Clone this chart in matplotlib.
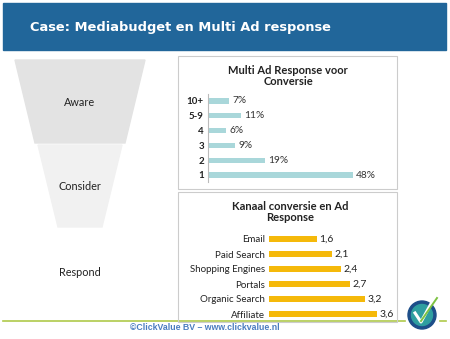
import matplotlib
matplotlib.use("Agg")
import matplotlib.pyplot as plt
from matplotlib.patches import Rectangle, Polygon, Circle

# * Data

funnel_stages = ["Aware", "Consider", "Respond"]

response_labels = ["1", "2", "3", "4", "5-9", "10+"]
response_values = [48, 19, 9, 6, 11, 7]

channel_labels = ["Affiliate", "Organic Search", "Portals",
                  "Shopping Engines", "Paid Search", "Email"]
channel_values = [3.6, 3.2, 2.7, 2.4, 2.1, 1.6]

W, H = 450, 339
FONT = "Lato"

fig = plt.figure(figsize=(W / 100, H / 100), dpi=100)

# Background canvas in pixel coordinates (origin top left).
bg = fig.add_axes([0, 0, 1, 1])
bg.set_xlim(0, W)
bg.set_ylim(H, 0)
bg.axis("off")

# Header band.
bg.add_patch(Rectangle((3, 3), 443, 47, color="#21669a", zorder=1))
bg.text(30, 27, "Case: Mediabudget en Multi Ad response", color="white",
        fontsize=9.4, fontweight="bold", va="center", ha="left",
        family="DejaVu Sans")

# Funnel.
bg.add_patch(Polygon([(15, 60), (145, 60), (125, 143), (35, 143)],
                     closed=True, color="#e3e3e3", zorder=1))
bg.add_patch(Polygon([(38, 145), (122, 145), (102, 227), (58, 227)],
                     closed=True, color="#f1f1f1", zorder=1))
for stage, y in zip(funnel_stages, [102, 187, 272]):
    bg.text(80, y, stage, fontsize=7.8, ha="center", va="center",
            color="#222222", family=FONT)

# Chart boxes.
for (x0, y0, x1, y1) in [(178, 56, 397, 189), (178, 192, 397, 322)]:
    bg.add_patch(Rectangle((x0, y0), x1 - x0, y1 - y0, fill=False,
                           edgecolor="#cccccc", lw=0.8, zorder=2))

bg.text(288, 76, "Multi Ad Response voor\nConversie", fontsize=8,
        fontweight="bold", ha="center", va="center", color="#222222",
        family=FONT, linespacing=1.1)
bg.text(290, 212, "Kanaal conversie en Ad\nResponse", fontsize=8,
        fontweight="bold", ha="center", va="center", color="#222222",
        family=FONT, linespacing=1.1)

# Bottom line, footer and logo.
bg.plot([3, 405], [321, 321], color="#afc94a", lw=1.2, zorder=1)
bg.plot([440, 446], [321, 321], color="#afc94a", lw=1.2, zorder=1)
bg.text(205, 327, "\u00a9ClickValue BV \u2013 www.clickvalue.nl", fontsize=6.3,
        fontweight="bold", color="#4a7cc0", ha="center", va="center",
        family="Liberation Sans", zorder=3)
bg.add_patch(Circle((422, 315), 14, color="#1d4e89", zorder=3))
bg.add_patch(Circle((422, 315), 10.5, color="#2f9fa0", zorder=4))
bg.plot([415, 421, 433], [313, 322, 300], color="white", lw=2.2, zorder=5)
bg.plot([421, 437], [321, 298], color="#7dc242", lw=1.4, zorder=6)


def px_axes(x0, x1, y0, y1):
    return fig.add_axes([x0 / W, 1 - y1 / H, (x1 - x0) / W, (y1 - y0) / H])


def style(ax):
    ax.patch.set_alpha(0)
    for s in ["top", "right", "bottom"]:
        ax.spines[s].set_visible(False)
    ax.spines["left"].set_color("#bbbbbb")
    ax.spines["left"].set_linewidth(0.8)
    ax.set_xticks([])
    ax.tick_params(axis="y", length=0, pad=3)


# * Multi Ad Response chart
ax1 = px_axes(208, 390, 93.6, 182.4)
pos = range(len(response_labels))
ax1.barh(pos, response_values, height=0.34, color="#a9d7da")
ax1.set_xlim(0, 182 / 3.02)
ax1.set_ylim(-0.5, 5.5)
ax1.set_yticks(list(pos))
ax1.set_yticklabels(response_labels, fontsize=7, fontweight="bold",
                    family=FONT, color="#222222")
style(ax1)
for p, v in zip(pos, response_values):
    ax1.text(v + 1, p, "{}%".format(v), fontsize=7.3, va="center",
             family=FONT, color="#333333")

# * Kanaal conversie chart
ax2 = px_axes(269, 390, 231.5, 321.5)
pos = range(len(channel_labels))
ax2.barh(pos, channel_values, height=0.4, color="#f5b90a")
ax2.set_xlim(0, 121 / 30)
ax2.set_ylim(-0.5, 5.5)
ax2.set_yticks(list(pos))
ax2.set_yticklabels(channel_labels, fontsize=7, family=FONT, color="#222222")
style(ax2)
ax2.spines["left"].set_visible(False)
for p, v in zip(pos, channel_values):
    ax2.text(v + 0.08, p, "{:.1f}".format(v).replace(".", ","), fontsize=7.5,
             va="center", family=FONT, color="#222222")

fig.savefig("out.png", dpi=100)
